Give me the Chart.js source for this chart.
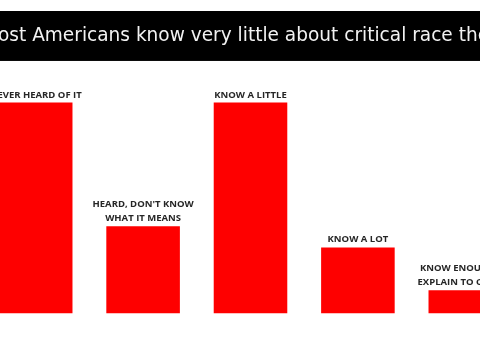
<!DOCTYPE html>
<html>
<head>
<meta charset="utf-8">
<script src="https://cdn.jsdelivr.net/npm/chart.js@4"></script>
<style>
  html, body { margin: 0; padding: 0; background: #fff; overflow: hidden; }
  body { width: 480px; height: 360px; position: relative; }
  #wrap { position: absolute; left: -18px; top: 0; width: 537px; height: 360px; }
</style>
</head>
<body>
<div id="wrap"><canvas id="chart" width="537" height="360"></canvas></div>
<script>
// Survey answers (share of respondents)
const categories = [
  ["NEVER HEARD OF IT"],
  ["HEARD, DON'T KNOW", "WHAT IT MEANS"],
  ["KNOW A LITTLE"],
  ["KNOW A LOT"],
  ["KNOW ENOUGH TO", "EXPLAIN TO OTHERS"]
];
const shares = [38, 15.7, 38, 11.9, 4.2];
const titleText = "Most Americans know very little about critical race theory";

// Black band behind the title
const titleBand = {
  id: "titleBand",
  beforeDraw(chart) {
    const tb = chart.titleBlock;
    const ctx = chart.ctx;
    ctx.save();
    ctx.fillStyle = "#000";
    ctx.fillRect(0, tb.top, chart.width, tb.bottom - tb.top);
    ctx.restore();
  }
};

// Category names written above each bar
const barLabels = {
  id: "barLabels",
  afterDatasetsDraw(chart) {
    const ctx = chart.ctx;
    const meta = chart.getDatasetMeta(0);
    ctx.save();
    ctx.fillStyle = "#262626";
    ctx.font = "bold 9.5px 'Open Sans', sans-serif";
    ctx.textAlign = "center";
    ctx.textBaseline = "alphabetic";
    meta.data.forEach((bar, i) => {
      const lines = categories[i];
      lines.forEach((line, j) => {
        const y = bar.y - 5 - (lines.length - 1 - j) * 14.5;
        ctx.fillText(line, bar.x, y);
      });
    });
    ctx.restore();
  }
};

new Chart(document.getElementById("chart"), {
  type: "bar",
  data: {
    labels: categories,
    datasets: [
      {
        data: shares,
        backgroundColor: "#fe0000",
        borderWidth: 0,
        categoryPercentage: 1,
        barPercentage: 0.685
      }
    ]
  },
  options: {
    responsive: false,
    animation: false,
    layout: { padding: { top: 11, bottom: 46.5, left: 0, right: 0 } },
    plugins: {
      legend: { display: false },
      tooltip: { enabled: false },
      title: {
        display: true,
        text: titleText,
        color: "#f2f2f2",
        font: { family: "'DejaVu Sans', sans-serif", size: 19, weight: "normal", lineHeight: 1.05 },
        padding: { top: 15, bottom: 15 }
      }
    },
    scales: {
      x: { display: false },
      y: { display: false, min: 0, max: 45.5 }
    }
  },
  plugins: [titleBand, barLabels]
});
</script>
</body>
</html>
